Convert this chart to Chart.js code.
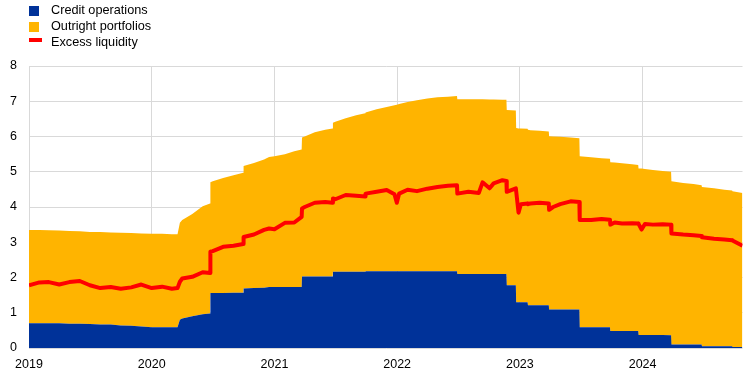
<!DOCTYPE html>
<html>
<head>
<meta charset="utf-8">
<script src="https://cdn.jsdelivr.net/npm/chart.js@4/dist/chart.umd.min.js"></script>
<style>
  html, body { margin: 0; padding: 0; background: #fff; }
  #wrap { position: relative; width: 744px; height: 374px; }
  #chart { position: absolute; left: 0; top: 0; }
  .lg { position: absolute; font-family: "Liberation Sans", Arial, sans-serif; font-size: 12.7px; line-height: 16px; color: #000; white-space: nowrap; }
  .sw { position: absolute; }
</style>
</head>
<body>
<div id="wrap">
  <canvas id="chart" width="744" height="374"></canvas>
  <div class="sw" style="left:29px;top:5.5px;width:10px;height:10px;background:#003299"></div>
  <div class="lg" style="left:51px;top:1.7px">Credit operations</div>
  <div class="sw" style="left:29px;top:22px;width:10px;height:10px;background:#ffb400"></div>
  <div class="lg" style="left:51px;top:18px">Outright portfolios</div>
  <div class="sw" style="left:29px;top:38.3px;width:13px;height:4px;background:#ff0000"></div>
  <div class="lg" style="left:51px;top:34.2px">Excess liquidity</div>
</div>
<script>
// Observation dates (jumps are given as consecutive days)
const dates = [
  '2019-01-01','2019-02-01','2019-03-01','2019-04-01','2019-05-01','2019-06-01','2019-07-01','2019-08-01','2019-09-01','2019-10-01','2019-11-01','2019-12-01',
  '2020-01-01','2020-02-01','2020-03-01','2020-03-18','2020-03-25','2020-04-01','2020-05-01','2020-06-01','2020-06-23','2020-06-24','2020-07-01','2020-08-01','2020-09-01','2020-09-30','2020-10-01','2020-11-01','2020-12-01','2020-12-16',
  '2021-01-01','2021-02-01','2021-03-01','2021-03-23','2021-03-24','2021-04-01','2021-05-01','2021-06-01','2021-06-23','2021-06-24','2021-07-01','2021-08-01','2021-09-01','2021-09-28','2021-09-29','2021-11-01','2021-12-01','2021-12-24','2021-12-31',
  '2022-01-07','2022-02-01','2022-03-01','2022-04-01','2022-05-01','2022-06-01','2022-06-28','2022-06-29','2022-08-01','2022-09-01','2022-09-12','2022-10-03','2022-10-15','2022-11-10','2022-11-22','2022-11-23','2022-12-20','2022-12-21','2022-12-28',
  '2023-01-04','2023-01-24','2023-01-25','2023-02-01','2023-03-01','2023-03-28','2023-03-29','2023-04-10','2023-05-01','2023-06-01','2023-06-27','2023-06-28','2023-08-01','2023-09-01','2023-09-26','2023-09-27','2023-10-10','2023-11-01','2023-12-01','2023-12-19','2023-12-20','2023-12-29',
  '2024-01-08','2024-02-01','2024-03-01','2024-03-26','2024-03-27','2024-05-01','2024-06-01','2024-06-25','2024-06-26','2024-08-01','2024-09-01','2024-09-24','2024-09-25','2024-10-25'
];
// EUR trillions
const creditOperations = [
  0.70,0.70,0.70,0.70,0.69,0.69,0.68,0.67,0.67,0.64,0.63,0.61,
  0.59,0.59,0.59,0.59,0.80,0.84,0.90,0.96,0.98,1.56,1.56,1.56,1.57,1.57,1.69,1.70,1.71,1.73,
  1.73,1.73,1.73,1.73,2.03,2.03,2.03,2.03,2.03,2.16,2.16,2.16,2.16,2.16,2.18,2.18,2.18,2.18,2.18,
  2.18,2.18,2.18,2.18,2.18,2.18,2.18,2.10,2.10,2.10,2.10,2.10,2.10,2.10,2.10,1.78,1.78,1.30,1.30,
  1.30,1.30,1.21,1.21,1.21,1.21,1.09,1.09,1.09,1.09,1.09,0.59,0.59,0.59,0.59,0.48,0.48,0.48,0.48,0.48,0.37,0.37,
  0.37,0.37,0.37,0.36,0.10,0.10,0.10,0.10,0.05,0.05,0.05,0.05,0.03,0.03
];
const outrightPortfolios = [
  2.65,2.65,2.64,2.63,2.63,2.62,2.61,2.62,2.61,2.63,2.63,2.64,
  2.65,2.65,2.64,2.64,2.75,2.79,2.90,3.06,3.12,3.14,3.17,3.26,3.33,3.40,3.47,3.55,3.64,3.69,
  3.71,3.77,3.85,3.90,3.94,3.97,4.09,4.16,4.20,4.23,4.26,4.36,4.44,4.50,4.50,4.59,4.66,4.71,4.72,
  4.74,4.80,4.85,4.90,4.93,4.95,4.97,4.96,4.96,4.96,4.96,4.95,4.95,4.94,4.94,4.97,4.96,4.94,4.93,
  4.93,4.92,4.98,4.97,4.95,4.93,4.92,4.91,4.90,4.88,4.86,4.85,4.82,4.79,4.78,4.79,4.78,4.76,4.73,4.71,4.72,4.72,
  4.71,4.68,4.65,4.64,4.63,4.58,4.55,4.52,4.52,4.48,4.44,4.42,4.42,4.37
];
const excessLiquidity = [
  1.78,1.86,1.87,1.80,1.87,1.90,1.78,1.70,1.73,1.68,1.72,1.80,
  1.70,1.74,1.68,1.70,1.88,1.97,2.02,2.15,2.13,2.73,2.75,2.87,2.90,2.95,3.15,3.22,3.35,3.39,
  3.37,3.55,3.56,3.72,3.96,4.00,4.12,4.14,4.12,4.24,4.22,4.34,4.32,4.30,4.38,4.43,4.48,4.36,4.12,
  4.38,4.49,4.45,4.52,4.57,4.60,4.62,4.38,4.43,4.40,4.70,4.53,4.67,4.76,4.74,4.43,4.53,4.45,3.84,
  4.08,4.10,4.08,4.10,4.12,4.10,3.92,4.00,4.08,4.16,4.14,3.63,3.63,3.66,3.64,3.50,3.56,3.53,3.54,3.53,3.52,3.36,
  3.52,3.50,3.51,3.50,3.25,3.22,3.20,3.18,3.14,3.10,3.08,3.06,3.05,2.90
];
const yearTicks = [2019, 2020, 2021, 2022, 2023, 2024];

function toYear(s) {
  const [y, m, d] = s.split('-').map(Number);
  const a = Date.UTC(y, 0, 1), b = Date.UTC(y + 1, 0, 1);
  return y + (Date.UTC(y, m - 1, d) - a) / (b - a);
}
const xs = dates.map(toYear);
const pts = arr => arr.map((v, i) => ({ x: xs[i], y: v }));

const tickFont = { family: '"Liberation Sans", Arial, sans-serif', size: 12.5 };

new Chart(document.getElementById('chart'), {
  type: 'line',
  data: {
    datasets: [
      { label: 'Credit operations', data: pts(creditOperations), backgroundColor: '#003299', borderWidth: 0, pointRadius: 0, fill: 'origin', order: 1 },
      { label: 'Outright portfolios', data: pts(outrightPortfolios), backgroundColor: '#ffb400', borderWidth: 0, pointRadius: 0, fill: '-1', order: 1 },
      { label: 'Excess liquidity', data: pts(excessLiquidity), borderColor: '#ff0000', borderWidth: 4, pointRadius: 0, fill: false, stack: 'liq', order: -1, borderJoinStyle: 'round', borderCapStyle: 'butt' }
    ]
  },
  options: {
    responsive: false,
    animation: false,
    layout: { padding: { top: 66, right: 1.5, bottom: 0, left: 0 } },
    plugins: { legend: { display: false }, tooltip: { enabled: false } },
    elements: { line: { tension: 0 } },
    scales: {
      x: {
        type: 'linear',
        min: 2019,
        max: xs[xs.length - 1],
        afterBuildTicks: s => { s.ticks = yearTicks.map(v => ({ value: v })); },
        afterFit: s => { s.height = 26; },
        ticks: { autoSkip: false, maxRotation: 0, padding: 9, color: '#000', font: tickFont, callback: v => String(v) },
        grid: { color: '#d9d9d9', lineWidth: 1, drawTicks: false },
        border: { display: false }
      },
      y: {
        stacked: true,
        min: 0,
        max: 8,
        afterFit: s => { s.width = 29; },
        ticks: { stepSize: 1, padding: 12, color: '#000', font: tickFont },
        grid: { color: '#d9d9d9', lineWidth: 1, drawTicks: false },
        border: { display: true, color: '#d9d9d9' }
      }
    }
  }
});
</script>
</body>
</html>
